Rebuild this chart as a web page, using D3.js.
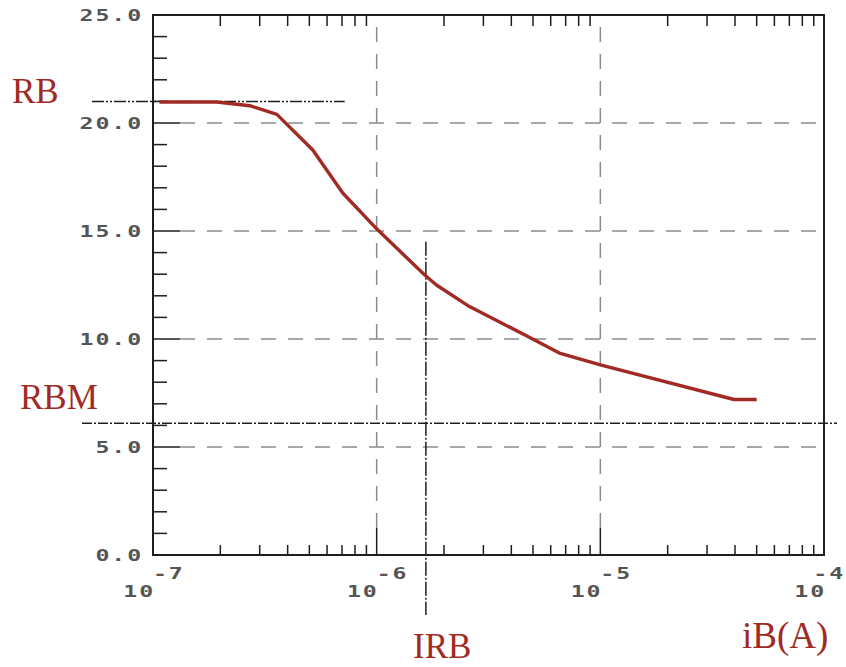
<!DOCTYPE html>
<html>
<head>
<meta charset="utf-8">
<script src="https://cdn.jsdelivr.net/npm/d3@7"></script>
<style>
  html, body { margin: 0; padding: 0; background: #fff; }
  svg { display: block; }
</style>
</head>
<body>
<svg id="chart" width="846" height="667"></svg>
<script>
// Base resistance RB versus base current iB (log axis)
const iB = [1.07e-7, 1.93e-7, 2.71e-7, 3.58e-7, 5.18e-7, 7.05e-7, 1.0e-6, 1.64e-6, 1.85e-6, 2.6e-6, 4.58e-6, 6.56e-6, 1.0e-5, 3.96e-5, 5.0e-5];
const rbValues = [20.97, 20.97, 20.8, 20.4, 18.75, 16.76, 15.1, 12.96, 12.5, 11.5, 10.2, 9.35, 8.8, 7.2, 7.2];

// Marker values
const RB = 21.0;      // zero-bias base resistance
const RBM = 6.1;      // minimum base resistance at high current
const IRB = 1.66e-6;  // current where RB falls halfway
const rbLineEnd = 7.2e-7;
const irbLineTop = 14.5;

// Axis ticks
const yTickLabels = ["0.0", "5.0", "10.0", "15.0", "20.0", "25.0"];
const yMajor = [0, 5, 10, 15, 20, 25];
const xDecades = [-7, -6, -5, -4];
const xTickLabels = ["-7", "-6", "-5", "-4"];

const width = 846;
const svg = d3.select("#chart");
const plotL = 153, plotR = 824, plotT = 15, plotB = 555;

const x = d3.scaleLog().domain([1e-7, 1e-4]).range([plotL, plotR]);
const y = d3.scaleLinear().domain([0, 25]).range([plotB, plotT]);

const ink = "#1e1e1e";
const gridColor = "#8c8c8c";
const red = "#a12b24";
const labelColor = "#555";

// Dashed grid
const g = svg.append("g");
g.selectAll("line.hgrid").data([5, 10, 15, 20]).enter().append("line")
  .attr("x1", plotL + 27).attr("x2", plotR)
  .attr("y1", d => y(d)).attr("y2", d => y(d))
  .attr("stroke", gridColor).attr("stroke-width", 1.5)
  .attr("stroke-dasharray", "15,12");
g.selectAll("line.vgrid").data([1e-6, 1e-5]).enter().append("line")
  .attr("x1", d => x(d)).attr("x2", d => x(d))
  .attr("y1", plotB - 27).attr("y2", plotT)
  .attr("stroke", gridColor).attr("stroke-width", 1.5)
  .attr("stroke-dasharray", "15,12");

// Minor ticks: y every unit, x at 2..9 per decade
const yMinor = d3.range(1, 25).filter(v => v % 5 !== 0);
const xMinor = [];
[-7, -6, -5].forEach(dd => { for (let k = 2; k <= 9; k++) xMinor.push(k * Math.pow(10, dd)); });

const ticks = svg.append("g").attr("stroke", ink).attr("stroke-width", 1.5);
ticks.selectAll("line.ym").data(yMinor).enter().append("line")
  .attr("x1", plotL).attr("x2", plotL + 14)
  .attr("y1", d => y(d)).attr("y2", d => y(d));
ticks.selectAll("line.yM").data([5, 10, 15, 20]).enter().append("line")
  .attr("x1", plotL).attr("x2", plotL + 27)
  .attr("y1", d => y(d)).attr("y2", d => y(d));
ticks.selectAll("line.xb").data(xMinor).enter().append("line")
  .attr("x1", d => x(d)).attr("x2", d => x(d))
  .attr("y1", plotB).attr("y2", plotB - 10);
ticks.selectAll("line.xt").data(xMinor).enter().append("line")
  .attr("x1", d => x(d)).attr("x2", d => x(d))
  .attr("y1", plotT).attr("y2", plotT + 11);
ticks.selectAll("line.xM").data([1e-6, 1e-5]).enter().append("line")
  .attr("x1", d => x(d)).attr("x2", d => x(d))
  .attr("y1", plotB).attr("y2", plotB - 27);

// Frame
svg.append("rect")
  .attr("x", plotL).attr("y", plotT)
  .attr("width", plotR - plotL).attr("height", plotB - plotT)
  .attr("fill", "none").attr("stroke", ink).attr("stroke-width", 2);

// Reference lines
svg.append("line")
  .attr("x1", plotL - 61).attr("x2", x(rbLineEnd))
  .attr("y1", y(RB)).attr("y2", y(RB))
  .attr("stroke", ink).attr("stroke-width", 1.5)
  .attr("stroke-dasharray", "12,2,2,2,2,2");
svg.append("line")
  .attr("x1", plotL - 71).attr("x2", plotR + 13)
  .attr("y1", y(RBM)).attr("y2", y(RBM))
  .attr("stroke", ink).attr("stroke-width", 1.5)
  .attr("stroke-dasharray", "10,2,2,2");
svg.append("line")
  .attr("x1", x(IRB)).attr("x2", x(IRB))
  .attr("y1", y(irbLineTop)).attr("y2", plotB + 60)
  .attr("stroke", ink).attr("stroke-width", 1.5)
  .attr("stroke-dasharray", "14,2,2,2");

// RB(iB) curve
const line = d3.line()
  .x((d, i) => x(iB[i]))
  .y(d => y(d));
svg.append("path")
  .datum(rbValues)
  .attr("d", line)
  .attr("fill", "none")
  .attr("stroke", red)
  .attr("stroke-width", 3.4)
  .attr("stroke-linejoin", "round")
  .attr("stroke-linecap", "butt");

// Tick labels in a wide mono face
const monoFont = "'DejaVu Sans Mono', monospace";
const sx = 1.55;
function wideText(px, py, txt, anchor, size) {
  return svg.append("text")
    .attr("transform", `translate(${px},${py}) scale(${sx},1)`)
    .attr("text-anchor", anchor)
    .attr("font-family", monoFont)
    .attr("font-size", size)
    .attr("font-weight", "bold")
    .attr("letter-spacing", 1.2)
    .attr("fill", labelColor)
    .text(txt);
}
yMajor.forEach((v, i) => wideText(143, y(v) + 5.5, yTickLabels[i], "end", 15));
xDecades.forEach((dd, i) => {
  const px = x(Math.pow(10, dd));
  wideText(px + 2, 597, "10", "end", 15);
  const sup = wideText(px, 579, xTickLabels[i], "start", 15);
  // keep the last exponent inside the page
  const w = sup.node().getBBox().width * sx;
  if (px + w > width - 1) {
    sup.attr("transform", `translate(${width - 1 - w},579) scale(${sx},1)`);
  }
});

// Red annotations
const serif = "'Liberation Serif', 'Times New Roman', serif";
function note(px, py, txt, size) {
  svg.append("text")
    .attr("x", px).attr("y", py)
    .attr("font-family", serif)
    .attr("font-size", size)
    .attr("fill", red)
    .text(txt);
}
note(12, 103, "RB", 35);
note(20, 409, "RBM", 35);
note(413, 658, "IRB", 35);
note(742, 648, "iB(A)", 37);
</script>
</body>
</html>
